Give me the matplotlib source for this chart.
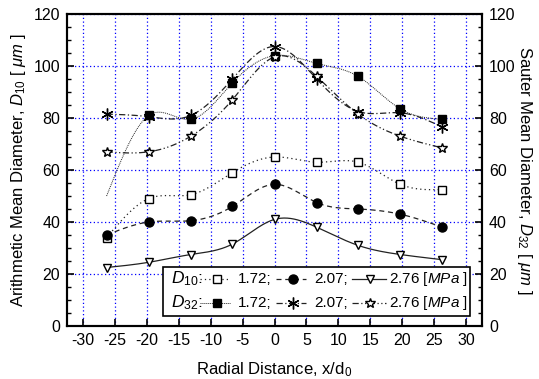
import numpy as np
import matplotlib
matplotlib.use('Agg')
import matplotlib.pyplot as plt
from matplotlib.patches import Rectangle
from matplotlib.ticker import MultipleLocator

plt.rcParams['font.family'] = ['Liberation Sans', 'DejaVu Sans']
plt.rcParams['mathtext.fontset'] = 'custom'
plt.rcParams['mathtext.rm'] = 'Liberation Sans'
plt.rcParams['mathtext.it'] = 'Liberation Sans:italic'
plt.rcParams['axes.unicode_minus'] = False

# radial positions (x/d0)
x = [-26.3, -19.7, -13.1, -6.6, 0.0, 6.6, 13.1, 19.7, 26.3]

# arithmetic mean diameter D10 [um]
d10_172 = [34, 49, 50.5, 59, 65, 63, 63, 54.5, 52.5]
d10_207 = [35, 40, 40.5, 46, 54.5, 47.5, 45, 43, 38]
d10_276 = [22.5, 24.5, 27.5, 31.5, 41, 38, 31, 27.5, 25.5]

# Sauter mean diameter D32 [um] (first 1.72 value is curve start only, no marker)
d32_172 = [50, 81, 79.5, 93.5, 104, 101, 96, 83.5, 79.5]
d32_207 = [81.5, 80.5, 81, 95, 107.5, 95, 82.5, 82, 76.5]
d32_276 = [67, 67, 73, 87, 103.5, 96, 81.5, 73, 68.5]


def smooth(xs, ys, n=300):
    # natural cubic spline through the points, for drawing the curve
    xs = np.asarray(xs, float)
    ys = np.asarray(ys, float)
    m = len(xs)
    h = np.diff(xs)
    A = np.zeros((m, m))
    b = np.zeros(m)
    A[0, 0] = A[-1, -1] = 1
    for i in range(1, m - 1):
        A[i, i - 1] = h[i - 1]
        A[i, i] = 2 * (h[i - 1] + h[i])
        A[i, i + 1] = h[i]
        b[i] = 6 * ((ys[i + 1] - ys[i]) / h[i] - (ys[i] - ys[i - 1]) / h[i - 1])
    M = np.linalg.solve(A, b)
    xx = np.linspace(xs[0], xs[-1], n)
    k = np.clip(np.searchsorted(xs, xx) - 1, 0, m - 2)
    t1 = xs[k + 1] - xx
    t0 = xx - xs[k]
    hk = h[k]
    yy = (M[k] * t1**3 + M[k + 1] * t0**3) / (6 * hk) \
        + (ys[k] / hk - M[k] * hk / 6) * t1 + (ys[k + 1] / hk - M[k + 1] * hk / 6) * t0
    return xx, yy


series = [
    (d10_172, 's', 'white', (0, (1, 2.5)), 0.9, None),
    (d10_207, 'o', 'black', (0, (4, 3)), 0.9, None),
    (d10_276, 'v', 'white', '-', 0.9, None),
    (d32_172, 's', 'black', (0, (1, 1)), 0.7, slice(1, None)),
    (d32_207, (6, 2, 0), 'black', (0, (5, 2, 1, 2)), 0.9, None),
    (d32_276, '*', 'white', (0, (5, 2, 1, 2, 1, 2)), 0.9, None),
]
MS = {'*': 7.5, 'o': 6.5, (6, 2, 0): 8.5}

fig = plt.figure(figsize=(5.39, 3.79), dpi=100)
ax = fig.add_axes([67/539, 1 - 326/379, 415/539, 312/379])

for ys, mk, fc, ls, lw, mev in series:
    xx, yy = smooth(x, ys)
    ax.plot(xx, yy, color='#222222', ls=ls, lw=lw, zorder=3)
    xm = x if mev is None else x[mev]
    ym = ys if mev is None else ys[mev]
    ax.plot(xm, ym, ls='none', marker=mk, ms=MS.get(mk, 6), mfc=fc, mec='black',
            mew=1.0, zorder=4)

ax.set_xlim(-32.5, 32.5)
ax.set_ylim(0, 120)
ax.xaxis.set_major_locator(MultipleLocator(5))
ax.yaxis.set_major_locator(MultipleLocator(20))
ax.yaxis.set_minor_locator(MultipleLocator(5))
ax.grid(True, which='major', color='#0000ff', ls=(0, (1, 2)), lw=0.9)
ax.tick_params(direction='in', labelsize=11.5, width=1.2, length=5, pad=5)
ax.tick_params(which='minor', direction='in', width=1, length=3)
for s in ax.spines.values():
    s.set_linewidth(1.5)

ax.set_xlabel('Radial Distance, x/d$_0$', fontsize=12, labelpad=9)
ax.set_ylabel(r'Arithmetic Mean Diameter, $D_{10}$ [ $\mu m$ ]', fontsize=12, labelpad=4)

ax2 = ax.twinx()
ax2.set_ylim(0, 120)
ax2.yaxis.set_major_locator(MultipleLocator(20))
ax2.yaxis.set_minor_locator(MultipleLocator(5))
ax2.tick_params(direction='in', labelsize=11.5, width=1.2, length=5, pad=5)
ax2.tick_params(which='minor', direction='in', width=1, length=3)
ax2.set_ylabel(r'Sauter Mean Diameter, $D_{32}$ [ $\mu m$ ]', fontsize=12,
               rotation=270, labelpad=13)
for s in ax2.spines.values():
    s.set_linewidth(1.5)


# hand-built legend, in pixel positions of the figure
def ax_xy(px, py):
    return (px - 67) / 415, (326 - py) / 312


tr = ax2.transAxes
x0, y0 = ax_xy(163, 316)
x1, y1 = ax_xy(470, 267)
ax2.add_patch(Rectangle((x0, y0), x1 - x0, y1 - y0, transform=tr, fc='white',
                        ec='black', lw=1.2, zorder=10))
rows = [(279, r'$D_{10}$:', series[:3]), (303, r'$D_{32}$:', series[3:])]
handles = [(200, 230, 217, 238, '1.72;'), (276, 306, 293, 314, '2.07;'),
           (352, 386, 370, 389, '2.76 [$\\mathit{MPa}$ ]')]
for py, head, ser in rows:
    hx, hy = ax_xy(171, py)
    ax2.text(hx, hy, head, transform=tr, fontsize=12.5, va='center', ha='left', zorder=11)
    for (la, lb, lm, lt, txt), (ys, mk, fc, ls, lw, mev) in zip(handles, ser):
        xa, yy = ax_xy(la, py)
        xb, _ = ax_xy(lb, py)
        xm, _ = ax_xy(lm, py)
        xt, _ = ax_xy(lt, py)
        ax2.plot([xa, xb], [yy, yy], transform=tr, color='#222222', ls=ls, lw=lw, zorder=11)
        ax2.plot([xm], [yy], transform=tr, ls='none', marker=mk, ms=MS.get(mk, 6), mfc=fc,
                 mec='black', mew=1.0, zorder=12)
        ax2.text(xt, yy, txt, transform=tr, fontsize=11, va='center', ha='left', zorder=11)

fig.savefig('out.png', dpi=100)
